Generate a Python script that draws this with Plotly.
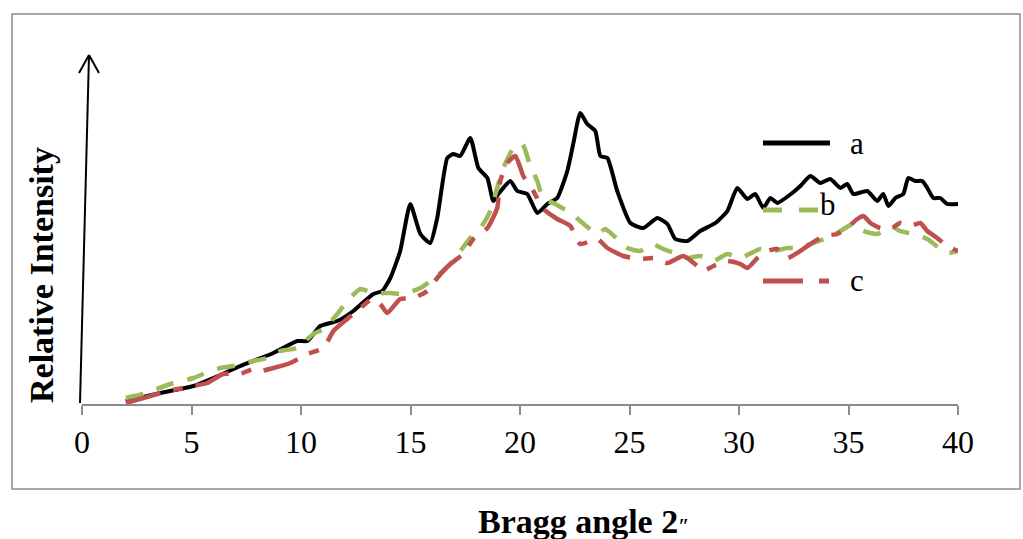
import plotly.graph_objects as go

# XRD patterns: Bragg angle 2θ (deg) vs relative intensity (arbitrary units)
a_angle = [2.0, 3.58, 5.09, 6.00, 7.23, 8.74, 9.83, 10.29, 10.88, 11.66, 12.39, 13.30, 13.71,
           14.08, 14.53, 14.99, 15.45, 15.90, 16.22, 16.68, 16.95, 17.27, 17.73, 18.10, 18.51,
           18.78, 19.01, 19.56, 19.88, 20.33, 20.79, 21.25, 21.70, 22.16, 22.43, 22.75, 23.07,
           23.44, 23.67, 23.99, 24.44, 25.04, 25.63, 26.27, 26.73, 27.09, 27.64, 28.23, 28.92,
           29.47, 29.92, 30.38, 30.74, 31.11, 31.43, 31.75, 32.43, 32.80, 33.26, 33.71, 34.17,
           34.63, 34.94, 35.22, 35.86, 36.31, 36.59, 36.82, 37.14, 37.50, 37.73, 38.05, 38.37,
           38.60, 38.87, 39.19, 39.51, 40.0]
a_int = [3, 11, 18, 26, 38, 51, 63, 63, 78, 83, 93, 110, 113,
         126, 153, 200, 170, 161, 186, 246, 250, 248, 266, 236, 226,
         203, 210, 223, 213, 210, 191, 200, 206, 233, 260, 291, 280,
         273, 248, 246, 213, 181, 176, 186, 180, 165, 163, 173, 181,
         193, 216, 205, 210, 196, 206, 201, 211, 218, 228, 221, 225,
         216, 220, 210, 213, 203, 210, 198, 206, 210, 226, 223, 223,
         216, 206, 206, 200, 200]

b_angle = [2.0, 2.80, 4.03, 5.09, 5.54, 6.32, 6.91, 7.82, 8.46, 9.05, 9.83, 10.56, 11.02,
           11.66, 12.11, 12.71, 13.30, 14.08, 14.67, 15.45, 16.04, 16.82, 17.73, 18.32, 18.64,
           18.96, 19.24, 19.70, 20.11, 20.47, 20.79, 21.06, 21.52, 22.30, 22.75, 23.53, 23.89,
           24.44, 24.90, 25.49, 26.04, 26.55, 27.18, 27.64, 28.23, 28.83, 29.47, 30.06, 30.97,
           31.57, 32.21, 32.80, 33.39, 34.03, 34.63, 35.22, 35.68, 36.31, 36.91, 37.36, 37.96,
           38.60, 39.19, 39.56, 40.0]
b_int = [6, 10, 20, 26, 30, 36, 38, 43, 46, 53, 56, 70, 75,
         90, 103, 115, 111, 111, 110, 116, 125, 140, 166, 180, 193,
         216, 236, 256, 260, 238, 223, 205, 201, 191, 183, 170, 175,
         165, 156, 153, 160, 155, 150, 146, 148, 143, 150, 146, 155,
         153, 156, 156, 161, 166, 173, 180, 173, 170, 178, 173, 170,
         165, 155, 151, 153]

c_angle = [2.0, 2.80, 3.58, 4.35, 5.09, 5.72, 6.45, 7.23, 7.82, 8.14, 8.74, 9.51, 10.29,
           11.02, 11.48, 12.11, 12.71, 13.25, 13.62, 13.94, 14.53, 15.13, 15.77, 16.22, 16.82,
           17.41, 17.87, 18.51, 18.96, 19.10, 19.42, 19.79, 20.15, 20.61, 21.02, 21.70, 22.30,
           22.75, 23.53, 23.99, 24.72, 25.49, 26.09, 26.73, 27.46, 28.10, 28.37, 28.83, 29.47,
           30.06, 30.38, 30.84, 31.29, 31.75, 32.21, 32.80, 33.26, 33.85, 34.49, 34.94, 35.40,
           35.68, 36.00, 36.45, 36.91, 37.36, 37.82, 38.28, 38.60, 39.05, 39.51, 40.0]
c_int = [1, 6, 11, 15, 18, 21, 30, 30, 35, 33, 36, 41, 50,
         56, 73, 85, 96, 105, 100, 91, 105, 106, 113, 126, 140,
         150, 165, 176, 196, 223, 241, 248, 228, 213, 196, 185, 178,
         160, 165, 156, 148, 145, 146, 141, 148, 138, 133, 138, 143,
         140, 136, 146, 153, 155, 146, 153, 160, 168, 170, 176, 185,
         188, 181, 176, 175, 181, 178, 181, 173, 166, 158, 153]

tick_vals = [0, 5, 10, 15, 20, 25, 30, 35, 40]
tick_text = ["0", "5", "10", "15", "20", "25", "30", "35", "40"]

BLACK = "#000000"
GREEN = "#9BBB59"
RED = "#C0504D"
SERIF = "Liberation Serif, Times New Roman, serif"

# plot-area geometry in pixels (used to place decorations in paper coords)
W, H = 1023, 539
L, R, T, B = 82, 65, 55, 135
PW, PH = W - L - R, H - T - B


def px(x):
    return (x - L) / PW


def py(y):
    return (H - B - y) / PH


fig = go.Figure()
fig.add_trace(go.Scatter(x=a_angle, y=a_int, mode="lines", name="a",
                         line=dict(color=BLACK, width=4, shape="spline", smoothing=0.5)))
fig.add_trace(go.Scatter(x=b_angle, y=b_int, mode="lines", name="b",
                         line=dict(color=GREEN, width=4.5, dash="18px,14px",
                                   shape="spline", smoothing=0.5)))
fig.add_trace(go.Scatter(x=c_angle, y=c_int, mode="lines", name="c",
                         line=dict(color=RED, width=4.5, dash="36px,13px,10px,13px",
                                   shape="spline", smoothing=0.5)))

shapes = []
# outer frame
shapes.append(dict(type="rect", xref="paper", yref="paper",
                   x0=px(12), x1=px(1020), y0=py(489), y1=py(14),
                   line=dict(color="#8c8c8c", width=1.5), fillcolor="rgba(0,0,0,0)"))
# intensity arrow
shapes.append(dict(type="line", xref="paper", yref="paper",
                   x0=px(80), y0=py(403), x1=px(89), y1=py(55),
                   line=dict(color=BLACK, width=2)))
shapes.append(dict(type="line", xref="paper", yref="paper",
                   x0=px(79), y0=py(73), x1=px(89), y1=py(55),
                   line=dict(color=BLACK, width=2)))
shapes.append(dict(type="line", xref="paper", yref="paper",
                   x0=px(99), y0=py(73), x1=px(89), y1=py(55),
                   line=dict(color=BLACK, width=2)))
# legend samples
shapes.append(dict(type="line", xref="paper", yref="paper",
                   x0=px(763), x1=px(830), y0=py(143), y1=py(143),
                   line=dict(color=BLACK, width=5)))
shapes.append(dict(type="line", xref="paper", yref="paper",
                   x0=px(763), x1=px(818), y0=py(210), y1=py(210),
                   line=dict(color=GREEN, width=5, dash="19px,17px")))
shapes.append(dict(type="line", xref="paper", yref="paper",
                   x0=px(763), x1=px(829), y0=py(281), y1=py(281),
                   line=dict(color=RED, width=5, dash="40px,16px,10px,20px")))


def label(text, x, y, size, angle=0):
    return dict(text=text, x=px(x), y=py(y), xref="paper", yref="paper",
                xanchor="center", yanchor="middle", showarrow=False, textangle=angle,
                font=dict(family=SERIF, size=size, color=BLACK))


annotations = [
    label("a", 857, 143, 31),
    label("b", 828, 204, 31),
    label("c", 857, 280, 31),
    label("<b>Bragg angle 2</b><span style='font-size:20px'><b>\u2033</b></span>",
          583, 521, 34),
    label("<b>Relative Intensity</b>", 41, 275, 34, angle=-90),
]

fig.update_layout(
    width=W, height=H,
    margin=dict(l=L, r=R, t=T, b=B),
    paper_bgcolor="white", plot_bgcolor="white",
    showlegend=False,
    shapes=shapes,
    annotations=annotations,
    xaxis=dict(range=[0, 40], tickvals=tick_vals, ticktext=tick_text,
               showgrid=False, zeroline=False, showline=True,
               linecolor="#8c8c8c", linewidth=1.5,
               ticks="outside", ticklen=9, tickcolor="#8c8c8c", tickwidth=1.5,
               tickfont=dict(family=SERIF, size=32, color=BLACK),
               ticklabelstandoff=0),
    yaxis=dict(range=[0, PH], visible=False, showgrid=False, zeroline=False),
)

fig.write_html("out.html")
